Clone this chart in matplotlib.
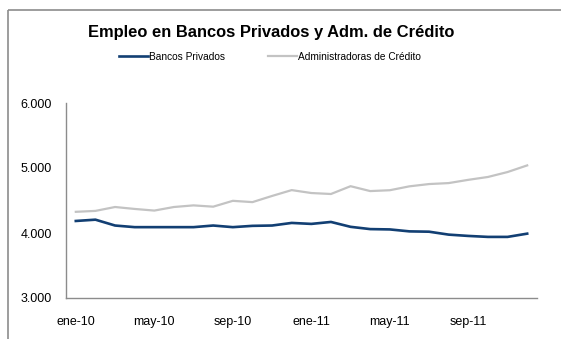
import matplotlib
matplotlib.use("Agg")
import matplotlib.pyplot as plt
from matplotlib.lines import Line2D

plt.rcParams['font.family'] = ['Liberation Sans', 'DejaVu Sans']

# monthly data, ene-10 .. dic-11
months = ['ene-10', 'feb-10', 'mar-10', 'abr-10', 'may-10', 'jun-10',
          'jul-10', 'ago-10', 'sep-10', 'oct-10', 'nov-10', 'dic-10',
          'ene-11', 'feb-11', 'mar-11', 'abr-11', 'may-11', 'jun-11',
          'jul-11', 'ago-11', 'sep-11', 'oct-11', 'nov-11', 'dic-11']
bancos = [4185, 4205, 4115, 4090, 4090, 4090, 4090, 4115, 4090, 4110, 4115, 4155,
          4140, 4170, 4095, 4060, 4055, 4025, 4020, 3975, 3955, 3940, 3940, 3990]
admin = [4326, 4340, 4400, 4370, 4345, 4400, 4425, 4405, 4495, 4475, 4570, 4660,
         4615, 4600, 4720, 4645, 4658, 4718, 4753, 4768, 4818, 4862, 4938, 5040]
yticks = [3000, 4000, 5000, 6000]
ytick_labels = ['3.000', '4.000', '5.000', '6.000']

W, H = 561, 339
fig = plt.figure(figsize=(W / 100, H / 100), dpi=100)

# outer chart border (only top and left visible in the crop)
border = dict(transform=fig.transFigure, color='#8c8c8c', linewidth=1.2,
              solid_capstyle='butt')
fig.lines.append(Line2D([8 / W, 1.05], [1 - 10 / H, 1 - 10 / H], **border))
fig.lines.append(Line2D([8 / W, 8 / W], [-0.05, 1 - 10 / H], **border))

ax = fig.add_axes([66 / W, 1 - 298 / H, (537 - 66) / W, (298 - 103) / H])
x = list(range(len(months)))
l1, = ax.plot(x, bancos, color='#123f73', linewidth=1.9, label='Bancos Privados')
l2, = ax.plot(x, admin, color='#c3c3c3', linewidth=1.6, label='Administradoras de Crédito')

ax.set_xlim(-0.5, len(months) - 0.5)
ax.set_ylim(3000, 6000)
ax.set_yticks(yticks)
ax.set_yticklabels(ytick_labels)
ax.set_xticks(x[::4])
ax.set_xticklabels(months[::4])
ax.tick_params(axis='both', length=0, labelsize=9)
ax.tick_params(axis='y', pad=10)
ax.tick_params(axis='x', pad=13)
for s in ['top', 'right']:
    ax.spines[s].set_visible(False)
for s in ['left', 'bottom']:
    ax.spines[s].set_color('#8c8c8c')
    ax.spines[s].set_linewidth(1.0)

fig.text(271 / W, 1 - 32 / H, 'Empleo en Bancos Privados y Adm. de Crédito',
         ha='center', va='center', fontsize=11.9, fontweight='bold')

fig.legend(handles=[l1, l2], loc='center', bbox_to_anchor=(270 / W, 1 - 57 / H),
           ncol=2, frameon=False, fontsize=7.3, handlelength=2.9,
           handletextpad=0.1, columnspacing=4.2)

fig.savefig('out.png', dpi=100)
